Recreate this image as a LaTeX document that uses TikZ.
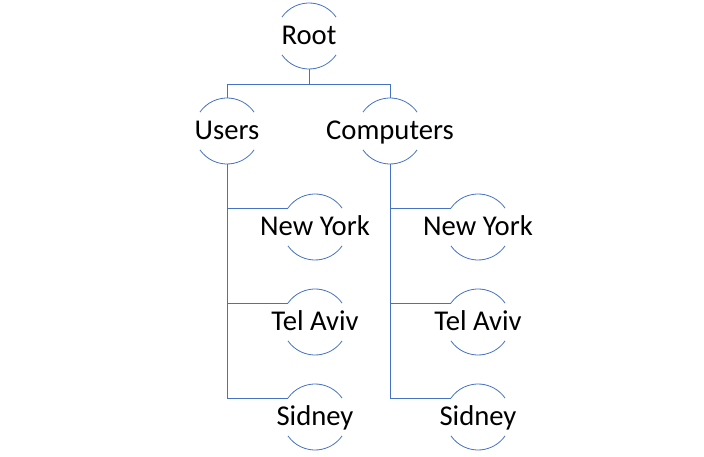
\documentclass[tikz,border=0pt]{standalone}
\usepackage{fontspec}
\setmainfont{Carlito}
\definecolor{lineblue}{RGB}{68,114,196}
\def\rad{24.75pt}
\tikzset{
  lbl/.style={inner sep=0pt, text height=13.5pt, text depth=0pt, font=\fontsize{21.5}{25}\selectfont},
  conn/.style={draw=lineblue, line width=0.75pt},
  ring/.style={draw=lineblue, line width=0.6pt}
}
\begin{document}
\begin{tikzpicture}[x=0.75pt, y=0.75pt]
      \useasboundingbox (0,0) rectangle (704,457);
      \node[lbl] (root) at (309, 421) {Root};
      \node[lbl] (users) at (227, 326) {Users};
      \node[lbl] (comp) at (390, 326) {Computers};
      \node[lbl] (nyA) at (315, 230) {New York};
      \node[lbl] (taA) at (315, 135) {Tel Aviv};
      \node[lbl] (sdA) at (315, 40) {Sidney};
      \node[lbl] (nyB) at (478, 230) {New York};
      \node[lbl] (taB) at (478, 135) {Tel Aviv};
      \node[lbl] (sdB) at (478, 40) {Sidney};
      \foreach \n in {root, users, comp, nyA, taA, sdA, nyB, taB, sdB} {
        \draw[ring] ([shift={(145:\rad)}]\n.center) arc[start angle=145, end angle=35, radius=\rad];
        \draw[ring] ([shift={(215:\rad)}]\n.center) arc[start angle=215, end angle=325, radius=\rad];
      }
      \draw[conn] ([yshift=-\rad]root.center) -- ++(0,-16) -| ([yshift=\rad]users.center);
      \draw[conn] ([yshift=-\rad]root.center) -- ++(0,-16) -| ([yshift=\rad]comp.center);
      \foreach \c in {nyA, taA, sdA} \draw[conn] ([yshift=-\rad]users.center) |- ([shift={(145:\rad)}]\c.center);
      \foreach \c in {nyB, taB, sdB} \draw[conn] ([yshift=-\rad]comp.center) |- ([shift={(145:\rad)}]\c.center);
    \end{tikzpicture}
\end{document}
